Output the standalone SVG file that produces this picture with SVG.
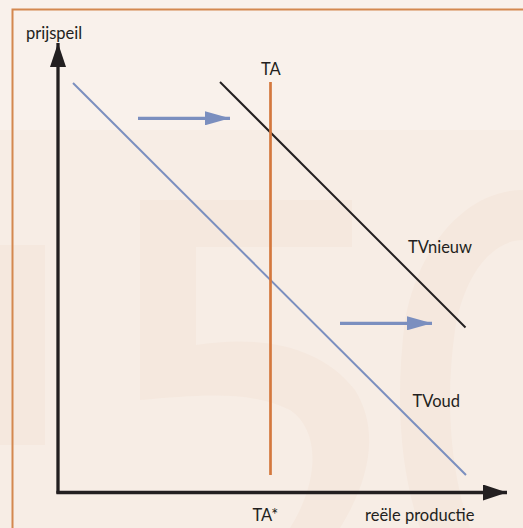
<svg xmlns="http://www.w3.org/2000/svg" width="523" height="528" viewBox="0 0 523 528">
  <style>
    .lbl { font-family: Lato, "Open Sans", sans-serif; font-size: 16.5px; fill: #231f20; }
    .axis { stroke: #231f20; stroke-width: 3.3; fill: none; }
    .shift { stroke: #7b8fbf; stroke-width: 3.3; fill: none; }
    .wm { fill: #f5e8de; }
  </style>
  <defs>
    <marker id="axHead" viewBox="0 0 24 16" refX="24" refY="8" markerWidth="24" markerHeight="16" markerUnits="userSpaceOnUse" orient="auto">
      <path d="M0,0 L24,8 L0,16 Z" fill="#231f20"/>
    </marker>
    <marker id="blueHead" viewBox="0 0 25 14" refX="25" refY="7" markerWidth="25" markerHeight="14" markerUnits="userSpaceOnUse" orient="auto">
      <path d="M0,0 L25,7 L0,14 Z" fill="#7b8fbf"/>
    </marker>
  </defs>

  <!-- background -->
  <rect x="0" y="0" width="523" height="528" fill="#f9f1eb"/>
  <g id="watermark">
    <rect x="0" y="130" width="523" height="398" fill="#f7ede5"/>
    <path class="wm" d="M140,200 L352,200 L352,247 L196,247 L196,345 C260,335 320,345 355,390 C380,430 370,480 340,528 L290,528 C320,480 320,430 290,410 C250,390 200,395 140,400 Z"/>
    <path class="wm" d="M523,190 C470,190 420,240 405,320 C395,400 400,470 420,528 L470,528 C450,470 445,400 455,330 C465,270 495,240 523,240 Z"/>
    <rect x="0" y="245" width="45" height="200" class="wm"/>
  </g>

  <!-- frame -->
  <rect x="12.5" y="9.5" width="520" height="530" fill="none" stroke="#d4884f" stroke-width="2"/>

  <g id="axes">
    <line class="axis" x1="58" y1="493.5" x2="58" y2="43" marker-end="url(#axHead)"/>
    <line class="axis" x1="56.4" y1="492.5" x2="507" y2="492.5" marker-end="url(#axHead)"/>
  </g>

  <g id="connectors">
    <line id="TVoud-line" x1="73" y1="83" x2="466" y2="475" stroke="#7b8fbf" stroke-width="2"/>
    <line id="TVnieuw-line" x1="220" y1="82" x2="465.5" y2="327.5" stroke="#231f20" stroke-width="2"/>
    <line id="TA-line" x1="270.5" y1="82" x2="270.5" y2="475" stroke="#d4783e" stroke-width="2.7"/>
    <line class="shift" x1="138" y1="118.3" x2="230" y2="118.3" marker-end="url(#blueHead)"/>
    <line class="shift" x1="340" y1="323.3" x2="432" y2="323.3" marker-end="url(#blueHead)"/>
  </g>

  <g id="labels">
    <text class="lbl" x="26" y="38.5">prijspeil</text>
    <text class="lbl" x="261" y="75">TA</text>
    <text class="lbl" x="408" y="253">TVnieuw</text>
    <text class="lbl" x="412.5" y="407">TVoud</text>
    <text class="lbl" x="252.5" y="521">TA*</text>
    <text class="lbl" x="365" y="521">reële productie</text>
  </g>
</svg>
